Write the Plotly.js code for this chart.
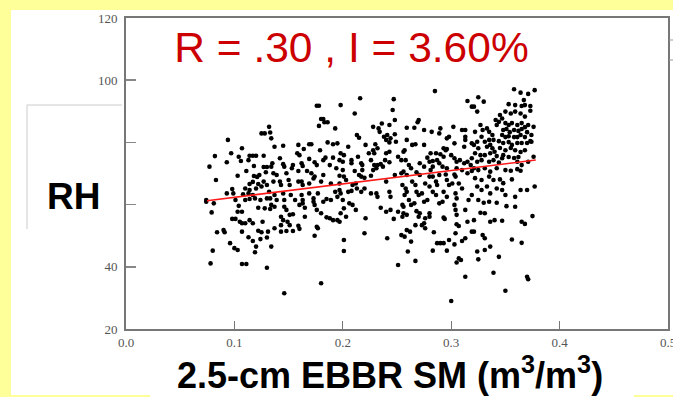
<!DOCTYPE html>
<html><head><meta charset="utf-8">
<script src="https://cdn.plot.ly/plotly-3.0.1.min.js"></script>
<style>html,body{margin:0;padding:0;background:#ffff99;}#chart{width:673px;height:397px;}</style>
</head><body><div id="chart"></div>
<script>
// Soil moisture (m3/m3) vs RH, grouped by vertical strips
var smX1 = [0.094,0.107,0.082,0.097,0.104,0.106,0.114,0.117,0.120,0.127,0.125,0.128,0.132,0.093,0.113,0.077,0.118,0.127,0.130,0.111,0.103,0.118,0.121,0.123,0.083,0.129,0.114,0.117,0.122,0.127,0.110,0.114,0.120,0.125,0.130,0.098,0.093,0.099,0.108,0.113,0.117,0.074,0.074,0.081,0.101,0.110,0.114,0.119,0.124,0.130,0.104,0.103,0.107,0.122,0.128,0.079,0.098,0.101,0.105,0.107,0.114,0.110,0.117,0.126,0.090,0.091,0.084,0.107,0.122,0.125,0.131,0.113,0.117,0.124,0.130,0.096,0.100,0.103,0.120,0.080,0.119,0.078,0.107,0.111,0.130];
var rhY1 = [80.8,78.1,75.6,76.5,75.4,74.0,75.7,75.7,75.7,75.7,82.9,82.9,85.0,73.6,74.3,72.2,72.4,72.1,72.1,70.8,69.3,69.2,68.9,69.5,67.9,70.4,66.6,67.3,66.6,67.4,65.2,64.7,65.2,65.8,66.3,65.0,63.6,63.6,63.3,63.6,63.1,61.5,60.9,60.4,61.5,61.5,61.8,62.0,61.5,62.0,59.6,57.7,57.7,59.0,58.8,57.5,55.4,55.4,54.5,54.0,55.0,54.0,54.0,54.5,51.8,51.1,51.1,51.3,51.6,51.1,51.3,49.5,48.3,48.9,49.4,47.6,46.0,45.4,46.5,45.2,44.7,41.1,40.9,40.9,39.7];

var smX2 = [0.176,0.178,0.180,0.182,0.183,0.186,0.178,0.193,0.133,0.134,0.137,0.145,0.159,0.164,0.169,0.171,0.179,0.186,0.191,0.158,0.160,0.142,0.135,0.134,0.145,0.146,0.154,0.153,0.162,0.163,0.169,0.174,0.176,0.182,0.184,0.188,0.191,0.136,0.139,0.148,0.159,0.167,0.171,0.173,0.174,0.182,0.136,0.142,0.143,0.150,0.151,0.159,0.162,0.163,0.169,0.180,0.189,0.132,0.133,0.137,0.139,0.145,0.146,0.152,0.156,0.162,0.163,0.169,0.173,0.177,0.182,0.185,0.189,0.193,0.134,0.137,0.146,0.148,0.160,0.163,0.165,0.173,0.174,0.176,0.133,0.151,0.154,0.143,0.145,0.165,0.180,0.185,0.188,0.191,0.143,0.149,0.151,0.159,0.160,0.176,0.177,0.137,0.143,0.148,0.154,0.174,0.134,0.180,0.146];
var rhY2 = [91.8,91.8,87.5,87.5,86.5,86.5,85.3,84.5,83.2,81.3,78.6,78.9,79.2,77.9,79.4,79.4,77.5,80.0,79.4,76.5,75.9,74.9,73.3,72.2,73.0,72.2,72.7,71.7,73.3,72.4,74.7,73.6,72.7,74.3,75.1,72.7,75.1,70.1,69.5,70.1,70.8,70.8,70.1,68.4,69.0,69.5,67.4,67.4,66.3,67.9,66.3,67.4,67.4,66.3,66.8,67.4,66.8,64.1,62.0,63.1,61.5,63.6,61.5,63.1,61.5,63.1,61.5,63.6,62.0,63.6,60.9,61.8,61.5,64.1,59.9,59.3,59.3,58.3,59.9,60.4,59.0,60.9,59.9,58.3,58.6,56.7,56.9,56.1,55.0,56.1,57.2,55.9,55.6,55.0,53.4,54.5,53.4,53.2,52.2,52.9,52.4,52.4,51.3,51.5,51.5,50.0,46.5,34.7,31.5];

var smX3 = [0.216,0.198,0.247,0.211,0.246,0.248,0.236,0.243,0.228,0.233,0.234,0.213,0.215,0.238,0.241,0.244,0.248,0.240,0.243,0.195,0.205,0.221,0.230,0.232,0.249,0.198,0.201,0.214,0.224,0.228,0.229,0.240,0.243,0.251,0.257,0.197,0.200,0.208,0.208,0.217,0.218,0.226,0.229,0.232,0.235,0.239,0.243,0.254,0.194,0.200,0.211,0.218,0.228,0.231,0.237,0.197,0.201,0.215,0.217,0.220,0.226,0.240,0.248,0.254,0.197,0.203,0.209,0.212,0.220,0.197,0.198,0.195,0.205,0.208,0.213,0.217,0.226,0.231,0.232,0.243,0.244,0.255,0.257,0.200,0.206,0.209,0.201,0.198,0.203,0.212,0.235,0.240,0.244,0.251,0.255,0.195,0.197,0.221,0.247,0.255,0.220,0.201,0.241,0.254,0.257,0.201,0.251];
var rhY3 = [94.2,92.0,93.9,89.3,90.4,87.2,86.1,85.6,85.0,84.5,83.4,82.4,81.5,81.8,82.4,81.3,82.6,80.8,80.0,79.7,78.6,79.2,79.4,78.1,80.2,76.5,75.9,75.4,76.5,77.5,76.5,76.5,77.0,75.4,77.5,74.3,73.8,74.3,73.3,73.3,72.7,74.3,72.7,72.7,73.0,74.3,73.6,74.3,71.7,71.1,70.8,71.1,71.1,71.7,72.2,69.3,69.0,69.5,69.0,68.6,69.3,67.4,69.5,70.1,66.8,67.9,66.3,66.8,65.2,64.7,63.6,62.5,64.1,64.4,65.2,64.1,63.6,63.6,62.5,64.1,62.5,66.3,63.1,61.5,60.4,59.9,58.8,57.2,56.1,58.3,59.0,57.7,58.3,57.7,59.9,55.0,54.5,55.6,55.4,56.1,50.8,48.6,49.2,50.2,49.7,45.1,40.6];

var smX4 = [0.285,0.315,0.319,0.270,0.269,0.259,0.266,0.275,0.282,0.290,0.289,0.302,0.310,0.313,0.296,0.298,0.313,0.313,0.259,0.303,0.264,0.267,0.275,0.293,0.295,0.296,0.312,0.319,0.256,0.281,0.286,0.290,0.293,0.300,0.303,0.278,0.280,0.283,0.287,0.289,0.305,0.308,0.312,0.315,0.318,0.258,0.261,0.263,0.271,0.275,0.283,0.281,0.292,0.296,0.305,0.310,0.256,0.259,0.268,0.271,0.280,0.283,0.289,0.295,0.303,0.304,0.315,0.319,0.264,0.267,0.276,0.280,0.286,0.287,0.296,0.298,0.301,0.307,0.310,0.258,0.259,0.268,0.270,0.273,0.283,0.286,0.293,0.296,0.304,0.305,0.316,0.261,0.263,0.266,0.275,0.278,0.289,0.292,0.303,0.313,0.256,0.268,0.271,0.270,0.280,0.276,0.280,0.293,0.294,0.304,0.305,0.315,0.256,0.259,0.267,0.273,0.276,0.275,0.259,0.262,0.305,0.307,0.319,0.284,0.304,0.263,0.287,0.290,0.293,0.298,0.310,0.313,0.303,0.283,0.296,0.260,0.307,0.309,0.305,0.267,0.313,0.300];
var rhY4 = [96.5,93.3,91.5,87.2,86.5,84.7,84.7,84.0,83.4,84.5,82.9,85.0,84.0,84.0,81.3,81.8,81.8,80.8,80.8,79.7,79.2,79.4,79.2,78.1,77.5,77.9,78.6,79.7,77.0,76.5,76.5,76.2,75.4,75.9,74.9,75.1,73.8,74.0,74.3,73.3,73.8,74.3,73.3,73.8,72.7,74.3,72.7,71.7,73.3,72.2,72.2,71.1,72.2,71.7,71.7,71.1,70.6,69.5,70.4,69.5,69.0,69.0,69.5,69.7,69.7,69.0,70.1,70.8,67.4,66.3,66.8,65.8,67.4,66.3,67.9,66.3,66.8,66.8,65.2,65.2,64.1,64.1,63.1,63.6,64.1,63.1,64.1,62.5,63.6,62.0,61.5,61.5,59.9,60.4,60.9,61.5,60.4,60.9,59.9,58.3,59.3,57.9,57.2,56.1,57.2,55.6,56.1,55.8,55.4,58.3,56.7,54.5,57.2,56.7,53.4,53.4,52.4,54.0,51.8,51.3,53.7,53.1,51.3,51.1,50.8,48.1,47.6,47.6,47.6,48.6,48.3,49.2,47.2,45.2,45.2,44.9,42.7,42.2,41.4,41.9,36.8,29.0];

var smX5 = [0.358,0.364,0.371,0.377,0.367,0.368,0.325,0.330,0.321,0.324,0.353,0.359,0.365,0.373,0.373,0.350,0.355,0.359,0.364,0.368,0.345,0.347,0.344,0.341,0.342,
  0.350,0.353,0.356,0.361,0.365,0.368,0.371, 0.348,0.351,0.354,0.358,0.362,0.365,0.370, 0.347,0.350,0.353,0.358,0.361,0.364,0.368, 0.344,0.348,0.353,0.356,0.361,0.365,0.370,0.373, 0.345,0.350,0.355,0.359,0.364,0.368, 0.348,0.353,0.358,0.362,
  0.338,0.339,0.335,0.336,0.333,0.329,0.335,0.327,0.322,0.324,0.328,0.331,0.333,0.338,0.340,0.321,0.325,0.322,0.327,0.331,0.336,0.342,0.347,0.319,0.324,0.328,0.335,0.339,0.344,0.361,0.365,0.371,0.376,0.374,0.374,0.376,
  0.321,0.325,0.331,0.336,0.342,0.350,0.355,0.361,0.364, 0.322,0.328,0.335,0.339,0.345,0.348,0.356, 0.324,0.328,0.333,0.336,0.342,0.347,0.350,0.359,0.364,0.370,0.377, 0.319,0.325,0.330,0.335,0.342,0.351,0.359, 0.327,0.331,0.321,0.336,0.340,0.347,0.365,0.368,0.375,
  0.321,0.329,0.331,0.356,0.365,0.336,0.331,0.324,0.344,0.325,0.339,0.370,0.371,0.350];
var rhY5 = [97.1,96.0,95.6,96.8,93.6,92.0,94.5,93.1,91.5,89.9,92.3,92.0,91.7,91.7,90.2,89.9,89.3,89.9,89.3,88.3,88.8,87.7,86.6,87.2,85.6,
  86.2,85.6,86.2,85.6,86.2,84.9,85.6, 84.0,84.3,83.3,84.0,83.7,84.3,83.3, 82.4,81.7,82.0,81.7,81.7,82.4,81.7, 80.4,79.8,80.1,79.2,79.8,79.8,79.8,80.4, 78.2,77.5,78.2,77.5,76.9,77.5, 75.9,75.3,75.0,75.3,
  82.4,80.8,80.8,79.2,84.5,84.0,83.4,85.6,83.4,80.2,81.8,80.2,78.6,78.1,77.0,79.2,78.1,76.5,75.9,75.9,76.5,75.6,74.9,74.9,73.8,74.3,73.8,74.3,73.5,73.8,72.7,73.8,75.4,80.2,82.4,85.0,
  71.7,71.1,71.7,70.6,71.7,71.1,70.9,71.4,70.9, 68.5,67.9,69.0,67.9,68.1,66.9,68.1, 65.8,64.7,65.8,63.6,65.2,64.7,63.1,62.5,64.7,64.7,65.8, 63.1,61.5,60.6,60.9,60.6,59.5,59.3, 57.4,57.2,55.0,54.5,55.0,54.8,54.5,53.8,56.3,
  51.3,50.2,49.2,48.8,47.7,46.5,45.4,44.9,43.2,42.4,38.1,36.8,36.0,32.3];

// regression line end points
var fitX = [0.0747, 0.378];
var fitY = [61.25, 74.34];

// axis ticks
var xTickVals = [0, 0.1, 0.2, 0.3, 0.4, 0.5];
var xTickText = ['0.0', '0.1', '0.2', '0.3', '0.4', '0.5'];
var yTickVals = [20, 40, 60, 80, 100, 120];
var yTickText = ['20', '40', '', '', '100', '120'];

var titleText = 'R = .30 , I = 3.60%';
var yLabel = 'RH';
var xLabel = '2.5-cm EBBR SM (m<sup>3</sup>/m<sup>3</sup>)';

var allX = smX1.concat(smX2, smX3, smX4, smX5);
var allY = rhY1.concat(rhY2, rhY3, rhY4, rhY5);

var traces = [
  {x: allX, y: allY, type: 'scatter', mode: 'markers',
   marker: {color: '#000000', size: 4.6, line: {width: 0}}, hoverinfo: 'none'},
  {x: fitX, y: fitY, type: 'scatter', mode: 'lines',
   line: {color: '#ff1a1a', width: 1.6}, hoverinfo: 'none'}
];

function px(v){ return (v - 126) / 542; }
function py(v){ return (329 - v) / 311; }

var tickFont = {family: '"Liberation Serif", "Times New Roman", serif', size: 13, color: '#555555'};

var layout = {
  width: 673, height: 397,
  margin: {l: 126, r: 5, t: 18, b: 68, pad: 0},
  paper_bgcolor: '#ffff99',
  plot_bgcolor: '#ffffff',
  showlegend: false,
  title: {text: titleText, xref: 'container', yref: 'container',
          x: 351.5/673, xanchor: 'center', y: 1 - 47/397, yanchor: 'middle',
          font: {family: '"Liberation Sans", Arial, sans-serif', size: 42.5, color: '#cc0000'}},
  xaxis: {range: [0, 0.5], tickmode: 'array', tickvals: xTickVals, ticktext: xTickText,
          ticks: 'inside', ticklen: 8, tickwidth: 1, tickcolor: '#777777',
          showline: true, linecolor: '#777777', linewidth: 2, mirror: true,
          showgrid: false, zeroline: false, tickfont: tickFont, ticklabeloverflow: 'allow', fixedrange: true},
  yaxis: {range: [20, 120], tickmode: 'array', tickvals: yTickVals, ticktext: yTickText,
          ticks: 'inside', ticklen: 10, tickwidth: 1.5, tickcolor: '#888888',
          showline: true, linecolor: '#777777', linewidth: 2, mirror: true,
          showgrid: false, zeroline: false, tickfont: tickFont, ticklabelstandoff: 4, fixedrange: true},
  shapes: [
    {type: 'rect', xref: 'paper', yref: 'paper', layer: 'below',
     x0: px(11), x1: px(680), y0: py(395), y1: py(10), fillcolor: '#ffffff', line: {width: 0}},
    {type: 'rect', xref: 'paper', yref: 'paper', layer: 'below',
     x0: px(150), x1: px(634), y0: py(400), y1: py(380), fillcolor: '#ffffff', line: {width: 0}},
    {type: 'line', xref: 'paper', yref: 'paper', x0: px(27), x1: px(27), y0: py(229), y1: py(105),
     line: {color: '#cccccc', width: 1}},
    {type: 'line', xref: 'paper', yref: 'paper', x0: px(27), x1: px(122), y0: py(105), y1: py(105),
     line: {color: '#cccccc', width: 1}},
    {type: 'line', xref: 'paper', yref: 'paper', x0: px(669), x1: px(680), y0: py(40), y1: py(40),
     line: {color: '#999999', width: 1}},
    {type: 'line', xref: 'paper', yref: 'paper', x0: px(669), x1: px(680), y0: py(60), y1: py(60),
     line: {color: '#999999', width: 1}}
  ],
  annotations: [
    {text: '<b>' + yLabel + '</b>', xref: 'paper', yref: 'paper', x: px(73.5), y: py(196),
     xanchor: 'center', yanchor: 'middle', showarrow: false,
     font: {family: '"Liberation Sans", Arial, sans-serif', size: 37, color: '#000000'}},
    {text: '<b>' + xLabel + '</b>', xref: 'paper', yref: 'paper', x: px(390), y: py(373),
     xanchor: 'center', yanchor: 'middle', showarrow: false,
     font: {family: '"Liberation Sans", Arial, sans-serif', size: 36, color: '#000000'}}
  ]
};

Plotly.newPlot('chart', traces, layout, {staticPlot: true, displayModeBar: false});
</script></body></html>
